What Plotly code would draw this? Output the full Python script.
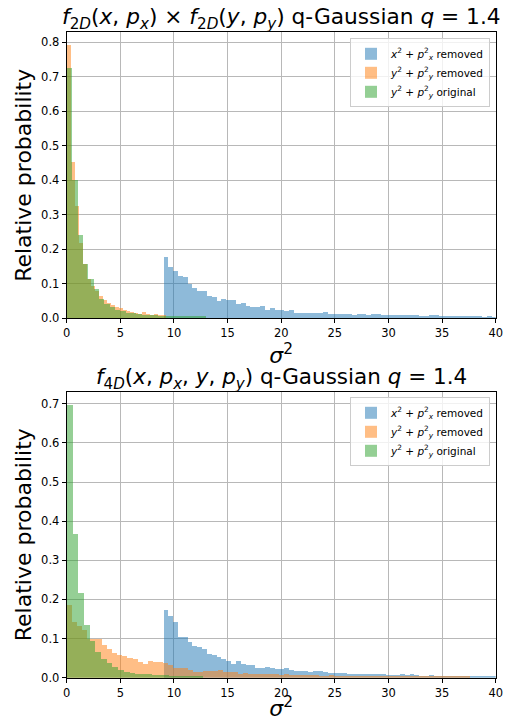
import numpy as np
import plotly.graph_objects as go

# ---------------- data ----------------
# Top panel: f2D(x,px) x f2D(y,py)
top_blue_start, top_blue_width = 9.0, 0.45
top_blue = [0.178, 0.149, 0.137, 0.123, 0.120, 0.098, 0.086, 0.079, 0.079, 0.064,
            0.060, 0.050, 0.055, 0.053, 0.053, 0.042, 0.044, 0.036, 0.033, 0.033,
            0.036, 0.024, 0.030, 0.022, 0.022, 0.020, 0.022, 0.015, 0.015, 0.015,
            0.015, 0.0135, 0.0135, 0.016, 0.012, 0.0125, 0.0125, 0.0125, 0.0125, 0.0097,
            0.0115, 0.0115, 0.009, 0.0115, 0.0115, 0.0087, 0.0087, 0.0087, 0.0087, 0.0087,
            0.0087, 0.0087, 0.0087, 0.006, 0.006, 0.0087, 0.0087, 0.004, 0.004, 0.004,
            0.004, 0.004, 0.007, 0.004, 0.004, 0.007, 0.002, 0.004, 0.002]

top_orange_start, top_orange_width = 0.0, 0.37
top_orange = [0.790, 0.453, 0.324, 0.216, 0.157, 0.113, 0.092, 0.077, 0.064, 0.053,
              0.044, 0.037, 0.031, 0.028, 0.023, 0.020, 0.017, 0.015, 0.013, 0.016,
              0.012, 0.010, 0.011, 0.009, 0.008]

top_green_start, top_green_width = 0.0, 0.497
top_green = [0.726, 0.399, 0.242, 0.157, 0.112, 0.084, 0.056, 0.042, 0.032, 0.023,
             0.019, 0.015, 0.0135, 0.012, 0.010, 0.009, 0.008, 0.007, 0.006, 0.006,
             0.005, 0.005, 0.004, 0.004, 0.004, 0.003]

# Bottom panel: f4D(x,px,y,py)
bot_blue_start, bot_blue_width = 9.0, 0.45
bot_blue = [0.175, 0.158, 0.142, 0.104, 0.106, 0.091, 0.083, 0.078, 0.073, 0.062,
            0.058, 0.053, 0.049, 0.043, 0.035, 0.043, 0.035, 0.032, 0.032, 0.026,
            0.026, 0.029, 0.026, 0.022, 0.022, 0.026, 0.021, 0.019, 0.017, 0.017,
            0.015, 0.017, 0.017, 0.016, 0.013, 0.012, 0.012, 0.012, 0.011, 0.009,
            0.009, 0.009, 0.009, 0.009, 0.009, 0.009, 0.008, 0.007, 0.008, 0.009,
            0.007, 0.009, 0.007, 0.006, 0.006, 0.007, 0.005, 0.005, 0.004, 0.005,
            0.004, 0.004, 0.004, 0.005, 0.004, 0.004, 0.004, 0.003, 0.004, 0.004]

bot_orange_start, bot_orange_width = 0.0, 0.47
bot_orange = [0.186, 0.142, 0.132, 0.122, 0.100, 0.100, 0.100, 0.084, 0.073, 0.064,
              0.058, 0.056, 0.052, 0.048, 0.041, 0.035, 0.043, 0.041, 0.040, 0.039,
              0.032, 0.026, 0.026, 0.026, 0.020, 0.016, 0.016, 0.018, 0.018, 0.018,
              0.020, 0.016, 0.0145, 0.0145, 0.011, 0.012, 0.010, 0.011, 0.010, 0.009,
              0.010, 0.009, 0.008, 0.009, 0.008, 0.008, 0.007, 0.008, 0.007, 0.007,
              0.006, 0.006, 0.007, 0.006, 0.006, 0.005, 0.006, 0.005, 0.006, 0.005,
              0.005, 0.004, 0.005, 0.005, 0.004, 0.005, 0.004, 0.004, 0.004, 0.003,
              0.004, 0.003, 0.004, 0.003, 0.003, 0.004, 0.003, 0.003, 0.003, 0.003]

bot_green_start, bot_green_width = 0.0, 0.53
bot_green = [0.697, 0.367, 0.217, 0.135, 0.095, 0.066, 0.048, 0.038, 0.028, 0.020,
             0.016, 0.013, 0.011, 0.010, 0.009, 0.008, 0.007, 0.007, 0.006, 0.006,
             0.005, 0.005, 0.005, 0.004]

x_ticks = [0, 5, 10, 15, 20, 25, 30, 35, 40]
top_y_ticks = [0.0, 0.1, 0.2, 0.3, 0.4, 0.5, 0.6, 0.7, 0.8]
bot_y_ticks = [0.0, 0.1, 0.2, 0.3, 0.4, 0.5, 0.6, 0.7]

names = ["<i>x</i><sup>2</sup> + <i>p</i><sup>2</sup><sub><i>x</i></sub> removed",
         "<i>y</i><sup>2</sup> + <i>p</i><sup>2</sup><sub><i>y</i></sub> removed",
         "<i>y</i><sup>2</sup> + <i>p</i><sup>2</sup><sub><i>y</i></sub> original"]
colors = ["#1f77b4", "#ff7f0e", "#2ca02c"]

top_title = ("<i>f</i><sub>2<i>D</i></sub>(<i>x</i>, <i>p</i><sub><i>x</i></sub>) × "
             "<i>f</i><sub>2<i>D</i></sub>(<i>y</i>, <i>p</i><sub><i>y</i></sub>) q-Gaussian <i>q</i> = 1.4")
bot_title = ("<i>f</i><sub>4<i>D</i></sub>(<i>x</i>, <i>p</i><sub><i>x</i></sub>, <i>y</i>, "
             "<i>p</i><sub><i>y</i></sub>) q-Gaussian <i>q</i> = 1.4")

W, H = 507, 721
FONT = "DejaVu Sans"


def centers(start, width, vals):
    return [start + width * (i + 0.5) for i in range(len(vals))]


fig = go.Figure()

panels = [
    ("x", "y", "legend",
     [(top_blue_start, top_blue_width, top_blue),
      (top_orange_start, top_orange_width, top_orange),
      (top_green_start, top_green_width, top_green)]),
    ("x2", "y2", "legend2",
     [(bot_blue_start, bot_blue_width, bot_blue),
      (bot_orange_start, bot_orange_width, bot_orange),
      (bot_green_start, bot_green_width, bot_green)]),
]

for xa, ya, leg, series in panels:
    for (start, width, vals), name, col in zip(series, names, colors):
        fig.add_trace(go.Bar(
            x=centers(start, width, vals), y=vals, width=width,
            marker=dict(color=col, line=dict(width=0)), opacity=0.5,
            name=name, xaxis=xa, yaxis=ya, legend=leg,
        ))


def py(p):
    return 1 - p / H


def pxx(p):
    return p / W


x_dom = [pxx(66.7), pxx(495.7)]
top_dom = [py(318.3), py(32.3)]
bot_dom = [py(677.7), py(391.7)]

axis_common = dict(
    showline=True, linecolor="black", linewidth=1, mirror=True,
    ticks="outside", ticklen=4, tickwidth=1, tickcolor="black",
    showgrid=True, gridcolor="#b8b8b8", gridwidth=1, zeroline=False,
    tickfont=dict(family=FONT, size=11.5, color="black"),
    automargin=False,
)

fig.update_layout(
    width=W, height=H, margin=dict(l=0, r=0, t=0, b=0),
    paper_bgcolor="white", plot_bgcolor="white",
    barmode="overlay", bargap=0,
    font=dict(family=FONT, color="black"),
    xaxis=dict(domain=x_dom, anchor="y", range=[0, 40], tickvals=x_ticks,
               title=dict(text="<i>σ</i><sup>2</sup>", font=dict(size=22), standoff=1),
               **axis_common),
    yaxis=dict(domain=top_dom, anchor="x", range=[0, 0.829], tickvals=top_y_ticks,
               tickformat=".1f",
               title=dict(text="Relative probability", font=dict(size=22), standoff=3),
               **axis_common),
    xaxis2=dict(domain=x_dom, anchor="y2", range=[0, 40], tickvals=x_ticks,
                title=dict(text="<i>σ</i><sup>2</sup>", font=dict(size=22), standoff=1),
                **axis_common),
    yaxis2=dict(domain=bot_dom, anchor="x2", range=[0, 0.731], tickvals=bot_y_ticks,
                tickformat=".1f",
                title=dict(text="Relative probability", font=dict(size=22), standoff=3),
                **axis_common),
    legend=dict(x=pxx(490), xanchor="right", y=py(38.3), yanchor="top",
                bgcolor="rgba(255,255,255,0.8)", bordercolor="#cccccc", borderwidth=1,
                font=dict(family=FONT, size=10.5)),
    legend2=dict(x=pxx(490), xanchor="right", y=py(397.3), yanchor="top",
                 bgcolor="rgba(255,255,255,0.8)", bordercolor="#cccccc", borderwidth=1,
                 font=dict(family=FONT, size=10.5)),
    annotations=[
        dict(text=top_title, x=(x_dom[0] + x_dom[1]) / 2, y=py(19), xref="paper", yref="paper",
             xanchor="center", yanchor="middle", showarrow=False, font=dict(family=FONT, size=21.7)),
        dict(text=bot_title, x=(x_dom[0] + x_dom[1]) / 2, y=py(378), xref="paper", yref="paper",
             xanchor="center", yanchor="middle", showarrow=False, font=dict(family=FONT, size=21.5)),
    ],
)

# remove the browser's default 8px page margin so the figure fills the window
fig.write_html("out.html", config={"displayModeBar": False},
               post_script="document.body.style.margin='0px';")
